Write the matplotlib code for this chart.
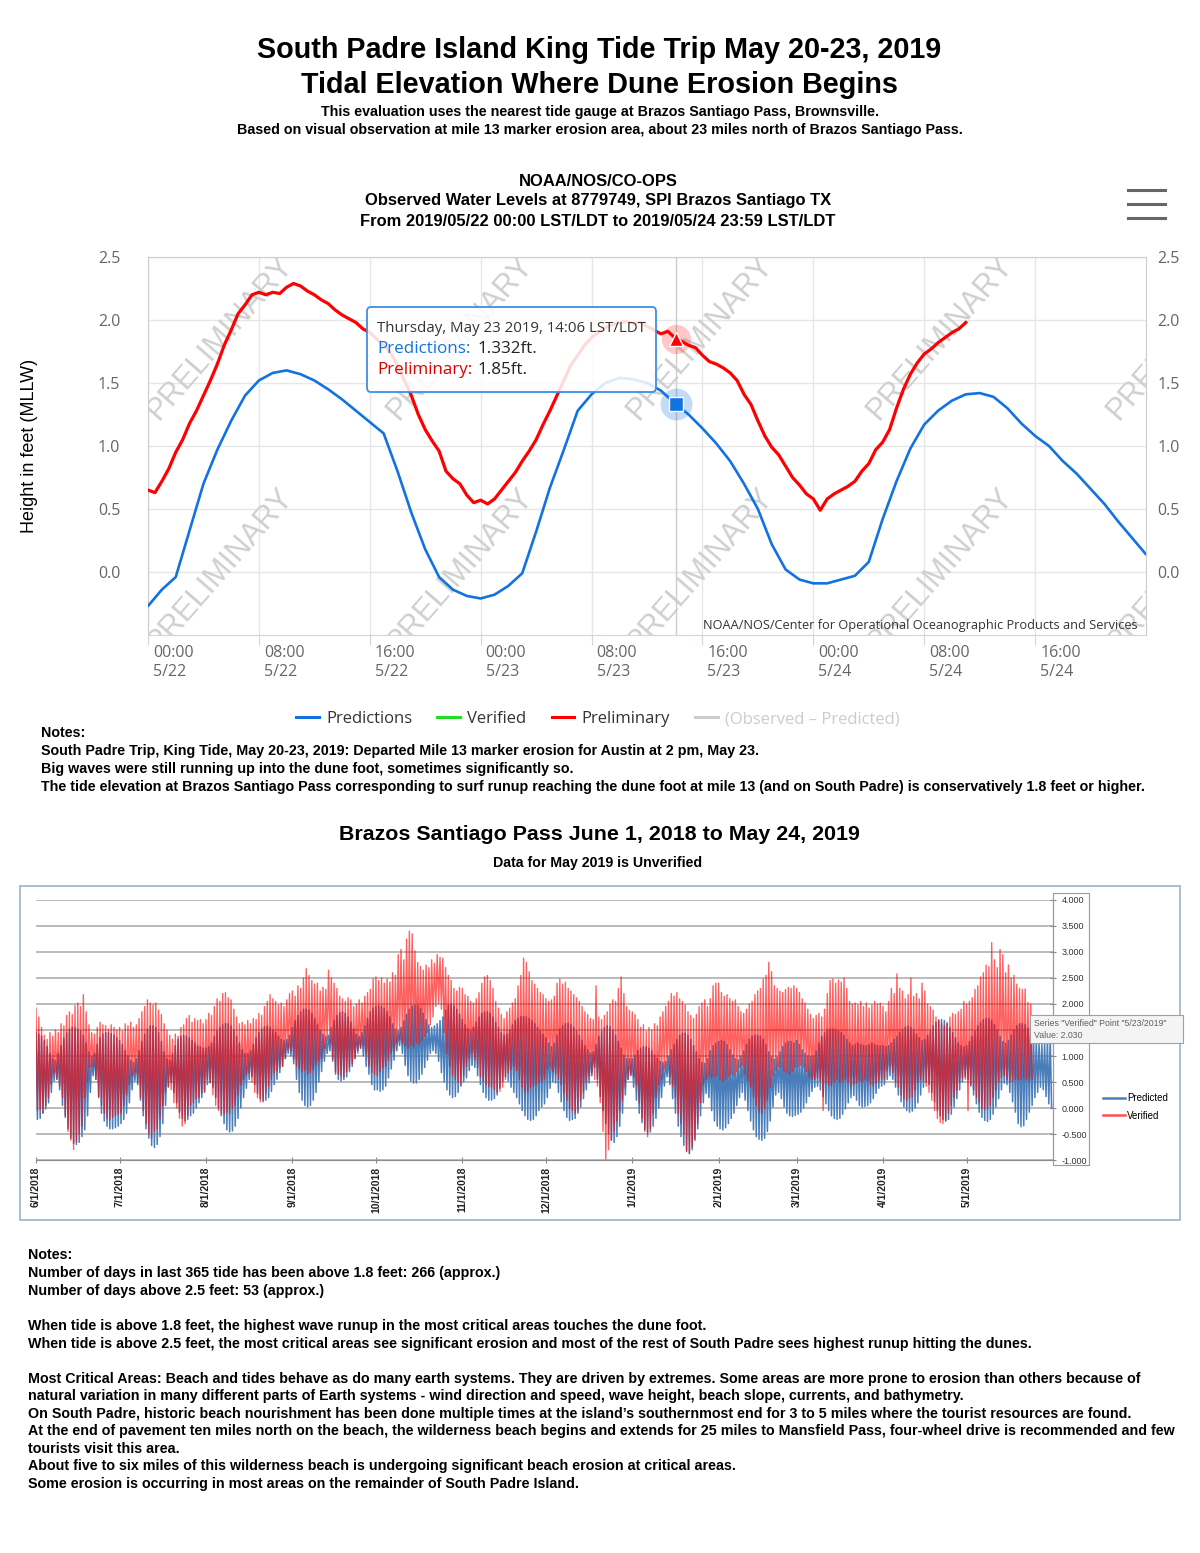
import numpy as np
import matplotlib.pyplot as plt
from matplotlib.lines import Line2D
from matplotlib.patches import FancyBboxPatch, Rectangle
from matplotlib.font_manager import FontProperties
from matplotlib.transforms import ScaledTranslation

plt.rcParams['font.family'] = ['Liberation Sans Narrow', 'Liberation Sans', 'DejaVu Sans']

W, H = 1200, 1553

# ---------------- upper chart: water levels, hours after 2019-05-22 00:00 ----------------
pred_hours = np.arange(0, 73)
pred_ft = [-0.27, -0.14, -0.04, 0.33, 0.70, 0.97, 1.20, 1.40, 1.52, 1.58, 1.60, 1.57,
           1.52, 1.45, 1.37, 1.28, 1.19, 1.10, 0.80, 0.47, 0.18, -0.04, -0.14, -0.19,
           -0.21, -0.18, -0.11, -0.01, 0.32, 0.67, 0.97, 1.28, 1.41, 1.50, 1.54, 1.53,
           1.50, 1.44, 1.34, 1.25, 1.14, 1.02, 0.88, 0.70, 0.50, 0.22, 0.02, -0.06,
           -0.09, -0.09, -0.06, -0.03, 0.08, 0.42, 0.72, 0.98, 1.17, 1.28, 1.36, 1.41,
           1.42, 1.39, 1.30, 1.18, 1.08, 1.00, 0.88, 0.78, 0.66, 0.54, 0.40, 0.27, 0.14]

prelim_hours = np.arange(0, 59.5, 0.5)
prelim_ft = [0.65, 0.63, 0.72, 0.82, 0.95, 1.05, 1.18, 1.28, 1.40, 1.52, 1.65, 1.80,
             1.92, 2.05, 2.12, 2.20, 2.22, 2.20, 2.22, 2.21, 2.26, 2.29, 2.27, 2.23,
             2.20, 2.16, 2.13, 2.08, 2.04, 2.01, 1.98, 1.93, 1.90, 1.85, 1.80, 1.74,
             1.64, 1.52, 1.40, 1.25, 1.13, 1.04, 0.96, 0.80, 0.74, 0.70, 0.61, 0.55,
             0.57, 0.54, 0.58, 0.65, 0.72, 0.79, 0.88, 0.96, 1.05, 1.17, 1.28, 1.40,
             1.52, 1.64, 1.72, 1.80, 1.86, 1.90, 1.94, 1.96, 1.98, 1.99, 1.97, 1.98,
             1.95, 1.92, 1.89, 1.91, 1.86, 1.83, 1.80, 1.78, 1.72, 1.67, 1.65, 1.62,
             1.58, 1.52, 1.41, 1.33, 1.20, 1.08, 0.99, 0.93, 0.84, 0.75, 0.69, 0.62,
             0.58, 0.49, 0.58, 0.62, 0.65, 0.68, 0.72, 0.80, 0.86, 0.97, 1.03, 1.13,
             1.30, 1.45, 1.57, 1.66, 1.73, 1.77, 1.82, 1.86, 1.90, 1.93, 1.98]

hover_hour = 38.1
hover_pred = 1.332
hover_prelim = 1.85

hour_ticks = [0, 8, 16, 24, 32, 40, 48, 56, 64]
hour_labels = ['00:00\n5/22', '08:00\n5/22', '16:00\n5/22', '00:00\n5/23', '08:00\n5/23',
               '16:00\n5/23', '00:00\n5/24', '08:00\n5/24', '16:00\n5/24']

# ---------------- lower chart: daily high / low, day 0 = 6/1/2018 ----------------
pred_hi = [
    1.45, 1.42, 1.38, 1.30, 1.18, 1.05, 0.95, 0.92, 1.05, 1.20, 1.35, 1.45, 1.52, 1.55, 1.55,
    1.52, 1.48, 1.40, 1.25, 1.08, 1.00, 1.05, 1.22, 1.35, 1.42, 1.45, 1.45, 1.43, 1.40, 1.35,  # jun
    1.30, 1.22, 1.10, 1.00, 0.92, 0.88, 0.95, 1.10, 1.28, 1.42, 1.52, 1.58, 1.58, 1.55, 1.45,
    1.28, 1.08, 0.95, 0.92, 1.05, 1.20, 1.32, 1.38, 1.40, 1.38, 1.35, 1.30, 1.25, 1.20, 1.18, 1.15,  # jul
    1.15, 1.18, 1.25, 1.38, 1.48, 1.55, 1.60, 1.63, 1.62, 1.58, 1.50, 1.38, 1.25, 1.12, 1.05,
    1.05, 1.10, 1.22, 1.35, 1.45, 1.52, 1.56, 1.58, 1.55, 1.50, 1.45, 1.38, 1.32, 1.30, 1.32, 1.40,  # aug
    1.55, 1.68, 1.78, 1.85, 1.90, 1.90, 1.88, 1.82, 1.72, 1.60, 1.50, 1.42, 1.38, 1.40, 1.55,
    1.68, 1.78, 1.83, 1.85, 1.82, 1.75, 1.65, 1.52, 1.42, 1.38, 1.45, 1.58, 1.72, 1.85, 1.92,  # sep
    1.95, 1.97, 1.96, 1.92, 1.85, 1.75, 1.62, 1.52, 1.48, 1.55, 1.68, 1.80, 1.90, 1.96, 1.98,
    1.97, 1.92, 1.82, 1.70, 1.60, 1.55, 1.58, 1.62, 1.68, 1.75, 1.88, 1.98, 2.00, 1.96, 1.90, 1.80,  # oct
    1.70, 1.60, 1.52, 1.48, 1.55, 1.65, 1.75, 1.82, 1.85, 1.85, 1.82, 1.75, 1.65, 1.55, 1.45,
    1.40, 1.42, 1.50, 1.60, 1.68, 1.73, 1.76, 1.76, 1.75, 1.72, 1.68, 1.62, 1.55, 1.48, 1.42,  # nov
    1.35, 1.25, 1.18, 1.25, 1.40, 1.52, 1.58, 1.62, 1.63, 1.60, 1.55, 1.48, 1.40, 1.30, 1.20,
    1.12, 1.06, 1.08, 1.22, 1.38, 1.48, 1.55, 1.58, 1.56, 1.50, 1.40, 1.28, 1.15, 1.02, 0.95, 0.95,  # dec
    0.95, 1.02, 1.10, 1.15, 1.18, 1.18, 1.15, 1.10, 1.02, 0.95, 0.90, 0.88, 0.90, 1.00, 1.12,
    1.22, 1.32, 1.40, 1.44, 1.44, 1.40, 1.32, 1.20, 1.08, 0.95, 0.88, 0.86, 0.95, 1.10, 1.20, 1.25,  # jan
    1.28, 1.30, 1.28, 1.22, 1.12, 1.02, 0.95, 0.93, 1.00, 1.10, 1.22, 1.32, 1.38, 1.40,
    1.40, 1.38, 1.32, 1.22, 1.08, 0.98, 0.94, 0.98, 1.08, 1.18, 1.25, 1.28, 1.28, 1.25,  # feb
    1.30, 1.22, 1.12, 1.05, 1.00, 0.98, 1.00, 1.10, 1.25, 1.38, 1.45, 1.50, 1.52, 1.52, 1.50,
    1.48, 1.45, 1.40, 1.32, 1.25, 1.20, 1.22, 1.25, 1.22, 1.20, 1.20, 1.22, 1.25, 1.22, 1.20, 1.20,  # mar
    1.20, 1.18, 1.20, 1.25, 1.32, 1.38, 1.45, 1.52, 1.56, 1.57, 1.55, 1.50, 1.42, 1.35, 1.30,
    1.32, 1.40, 1.50, 1.58, 1.65, 1.68, 1.70, 1.68, 1.62, 1.55, 1.45, 1.35, 1.25, 1.20, 1.18,  # apr
    1.20, 1.28, 1.38, 1.48, 1.58, 1.65, 1.70, 1.72, 1.72, 1.68, 1.60, 1.50, 1.38, 1.28, 1.25,
    1.30, 1.40, 1.50, 1.58, 1.62, 1.62, 1.60, 1.54, 1.46, 1.38, 1.30, 1.25, 1.22, 1.25, 1.30, 1.35,  # may
]
pred_lo = [
    -0.22, -0.20, -0.10, -0.02, 0.10, 0.30, 0.52, 0.55, 0.35, 0.05, -0.18, -0.40, -0.58, -0.68, -0.70,
    -0.66, -0.55, -0.42, -0.15, 0.30, 0.62, 0.55, 0.20, -0.10, -0.25, -0.35, -0.40, -0.40, -0.38, -0.35,
    -0.30, -0.22, -0.10, 0.10, 0.35, 0.52, 0.45, 0.15, -0.15, -0.40, -0.58, -0.72, -0.76, -0.70, -0.55,
    -0.30, 0.05, 0.40, 0.50, 0.30, 0.10, -0.08, -0.20, -0.25, -0.22, -0.15, -0.10, 0.00, 0.10, 0.20, 0.30,
    0.45, 0.48, 0.40, 0.20, 0.00, -0.15, -0.30, -0.42, -0.46, -0.44, -0.35, -0.20, 0.00, 0.20, 0.38,
    0.55, 0.60, 0.45, 0.28, 0.18, 0.12, 0.15, 0.20, 0.32, 0.45, 0.55, 0.68, 0.80, 0.95, 1.05, 1.00,
    0.85, 0.55, 0.30, 0.15, 0.05, 0.02, 0.05, 0.15, 0.30, 0.50, 0.70, 0.90, 1.05, 1.10, 0.90,
    0.65, 0.55, 0.52, 0.55, 0.60, 0.70, 0.80, 0.95, 1.10, 1.15, 1.00, 0.80, 0.65, 0.45, 0.35,
    0.35, 0.32, 0.35, 0.42, 0.58, 0.75, 0.92, 1.10, 1.20, 1.05, 0.82, 0.62, 0.52, 0.48, 0.48,
    0.55, 0.65, 0.78, 0.92, 1.05, 1.10, 1.05, 0.90, 0.68, 0.50, 0.35, 0.25, 0.20, 0.22, 0.30, 0.42,
    0.50, 0.58, 0.72, 0.82, 0.78, 0.62, 0.45, 0.30, 0.20, 0.15, 0.15, 0.18, 0.25, 0.38, 0.52,
    0.60, 0.52, 0.40, 0.30, 0.20, 0.08, -0.05, -0.15, -0.22, -0.24, -0.22, -0.15, -0.05, 0.02, 0.08,
    0.20, 0.38, 0.50, 0.48, 0.30, 0.12, -0.05, -0.18, -0.24, -0.22, -0.20, -0.10, 0.02, 0.18, 0.35,
    0.48, 0.62, 0.78, 0.55, 0.22, -0.05, -0.30, -0.50, -0.62, -0.66, -0.55, -0.35, -0.10, 0.25, 0.55, 0.62,
    0.40, 0.15, -0.10, -0.28, -0.42, -0.48, -0.46, -0.35, -0.20, 0.00, 0.20, 0.42, 0.60, 0.45, 0.18,
    -0.10, -0.35, -0.55, -0.72, -0.84, -0.87, -0.80, -0.62, -0.40, -0.15, 0.10, 0.28, 0.20, -0.05, -0.25, -0.35,
    -0.40, -0.42, -0.38, -0.30, -0.20, -0.10, 0.05, 0.20, 0.30, 0.15, -0.05, -0.25, -0.42, -0.55,
    -0.60, -0.62, -0.58, -0.45, -0.25, 0.02, 0.25, 0.30, 0.18, 0.02, -0.10, -0.15, -0.16, -0.14,
    -0.12, -0.08, 0.00, 0.10, 0.22, 0.32, 0.40, 0.42, 0.35, 0.22, 0.08, -0.05, -0.15, -0.20, -0.22,
    -0.20, -0.12, -0.02, 0.10, 0.20, 0.24, 0.15, 0.05, 0.02, 0.03, 0.05, 0.10, 0.18, 0.28, 0.38, 0.42,
    0.45, 0.55, 0.62, 0.55, 0.40, 0.25, 0.12, 0.02, -0.05, -0.08, -0.06, 0.00, 0.10, 0.25, 0.40,
    0.50, 0.45, 0.30, 0.12, -0.05, -0.15, -0.22, -0.25, -0.22, -0.12, 0.02, 0.18, 0.35, 0.50, 0.60,
    0.55, 0.42, 0.25, 0.08, -0.08, -0.18, -0.24, -0.26, -0.22, -0.12, 0.02, 0.18, 0.35, 0.48, 0.45,
    0.30, 0.12, -0.08, -0.30, -0.36, -0.34, -0.22, -0.08, 0.05, 0.20, 0.30, 0.40, 0.35, 0.22, 0.08, 0.00,
]
ver_hi = [
    1.92, 1.75, 1.55, 1.40, 1.32, 1.45, 1.38, 1.50, 1.45, 1.62, 1.58, 1.78, 1.85, 1.80, 1.97,
    2.02, 1.95, 2.18, 1.85, 1.60, 1.45, 1.42, 1.55, 1.65, 1.60, 1.58, 1.52, 1.60, 1.55, 1.50,
    1.55, 1.48, 1.62, 1.58, 1.65, 1.55, 1.60, 1.72, 1.85, 1.95, 2.08, 2.02, 1.98, 2.02, 1.88,
    1.80, 1.62, 1.50, 1.40, 1.32, 1.42, 1.38, 1.55, 1.60, 1.72, 1.78, 1.65, 1.72, 1.68, 1.70, 1.62,
    1.70, 1.82, 1.78, 1.95, 2.10, 2.05, 2.20, 2.22, 2.12, 2.08, 1.90, 1.75, 1.62, 1.65, 1.60,
    1.68, 1.62, 1.72, 1.70, 1.82, 1.78, 1.95, 2.05, 2.18, 2.10, 2.05, 1.98, 2.02, 1.95, 2.08, 2.20,
    2.25, 2.15, 2.35, 2.30, 2.50, 2.68, 2.55, 2.45, 2.38, 2.40, 2.25, 2.32, 2.28, 2.65, 2.50,
    2.40, 2.30, 2.15, 2.10, 2.05, 2.12, 2.08, 1.95, 2.00, 2.08, 2.02, 2.15, 2.22, 2.28, 2.48,
    2.52, 2.45, 2.50, 2.40, 2.48, 2.42, 2.60, 2.55, 2.95, 3.05, 2.85, 3.25, 3.40, 3.35, 3.02,
    2.80, 2.72, 2.65, 2.75, 2.70, 2.85, 2.78, 2.95, 2.90, 2.88, 2.70, 2.55, 2.45, 2.30, 2.25, 2.32,
    2.30, 2.18, 2.15, 2.05, 2.02, 2.10, 2.22, 2.40, 2.52, 2.55, 2.45, 2.30, 2.05, 1.92, 1.80,
    1.72, 1.85, 1.92, 2.02, 2.10, 2.35, 2.55, 2.88, 2.80, 2.62, 2.45, 2.38, 2.30, 2.22, 2.18,
    2.10, 2.05, 2.08, 2.15, 2.40, 2.48, 2.38, 2.42, 2.30, 2.25, 2.18, 2.12, 2.05, 1.95, 1.85,
    1.80, 1.72, 1.70, 2.35, 1.75, 1.70, 1.78, 1.85, 2.00, 2.08, 2.05, 2.30, 2.52, 2.20, 1.95, 1.88,
    1.85, 1.80, 1.70, 1.55, 1.60, 1.48, 1.55, 1.50, 1.62, 1.58, 1.75, 1.85, 1.95, 2.05, 2.20,
    2.15, 2.22, 2.10, 2.05, 1.98, 1.85, 1.78, 1.72, 1.80, 1.95, 2.02, 2.08, 1.95, 2.10, 2.35, 2.40,
    2.40, 2.22, 2.15, 2.18, 2.10, 2.05, 2.08, 1.95, 1.85, 1.82, 1.90, 2.00, 2.05, 2.18,
    2.25, 2.30, 2.48, 2.55, 2.80, 2.62, 2.35, 2.30, 2.25, 2.22, 2.28, 2.32, 2.30, 2.35,
    2.30, 2.22, 2.10, 2.02, 1.90, 1.80, 1.72, 1.78, 1.82, 1.75, 1.90, 2.20, 2.45, 2.48, 2.40,
    2.46, 2.42, 2.50, 2.30, 2.05, 2.00, 2.02, 1.98, 2.05, 1.95, 2.02, 1.92, 1.98, 2.05, 2.00, 2.02,
    1.95, 1.85, 2.05, 2.30, 2.20, 2.58, 2.30, 2.25, 2.10, 2.18, 2.50, 2.15, 2.20, 2.10, 2.40,
    2.25, 2.00, 1.95, 1.88, 1.75, 1.70, 1.62, 1.58, 1.65, 1.75, 1.82, 1.80, 1.85, 1.90, 2.05,
    2.00, 2.05, 2.12, 2.28, 2.35, 2.52, 2.60, 2.75, 2.72, 3.18, 2.85, 2.70, 3.05, 2.95, 2.60,
    2.75, 2.50, 2.55, 2.38, 2.30, 2.28, 2.29, 2.03, 2.00,
]
ver_lo = [
    -0.05, -0.02, -0.10, 0.05, 0.20, 0.45, 0.68, 0.55, 0.42, 0.20, -0.15, -0.45, -0.62, -0.80, -0.65,
    -0.50, -0.35, 0.20, 0.50, 0.78, 0.80, 0.55, 0.22, 0.05, -0.10, -0.20, -0.22, -0.18, -0.15, -0.12,
    -0.10, 0.05, 0.25, 0.45, 0.62, 0.68, 0.50, 0.20, -0.05, -0.30, -0.48, -0.58, -0.45, -0.40, -0.20,
    0.05, 0.30, 0.42, 0.35, 0.10, 0.00, -0.20, -0.35, -0.30, -0.15, 0.05, 0.10, 0.18, 0.20, 0.28, 0.32,
    0.55, 0.50, 0.25, 0.05, -0.05, -0.10, -0.12, -0.08, -0.10, 0.00, 0.05, 0.25, 0.45, 0.55, 0.65,
    0.68, 0.50, 0.30, 0.20, 0.12, 0.15, 0.30, 0.42, 0.55, 0.68, 0.72, 0.78, 0.80, 0.95, 1.15, 1.10,
    0.95, 0.80, 0.75, 0.70, 0.72, 0.65, 0.68, 0.75, 0.82, 0.90, 0.95, 1.15, 1.30, 1.25, 0.95,
    0.70, 0.65, 0.62, 0.60, 0.70, 0.78, 0.85, 0.95, 1.05, 1.15, 1.20, 1.05, 0.80, 0.68, 0.65,
    0.62, 0.70, 0.78, 0.80, 0.92, 1.05, 1.10, 1.25, 1.32, 1.25, 1.20, 1.15, 1.20, 1.18, 1.25,
    1.22, 1.30, 1.38, 1.45, 1.60, 1.75, 1.95, 2.00, 1.90, 1.45, 1.05, 0.80, 0.62, 0.55, 0.50, 0.45,
    0.62, 0.80, 0.95, 1.05, 0.92, 0.78, 0.60, 0.52, 0.45, 0.42, 0.40, 0.35, 0.30, 0.32, 0.40,
    0.55, 0.68, 0.75, 0.80, 0.72, 0.55, 0.40, 0.30, 0.32, 0.38, 0.42, 0.45, 0.48, 0.52, 0.55,
    0.75, 0.80, 0.70, 0.65, 0.55, 0.45, 0.30, 0.15, 0.00, -0.05, -0.10, -0.05, 0.15, 0.30, 0.50,
    0.62, 0.68, 0.55, 0.42, 0.10, -0.45, -0.98, -0.80, -0.62, -0.45, -0.25, -0.05, 0.15, 0.40, 0.55, 0.65,
    0.60, 0.45, 0.10, -0.20, -0.45, -0.55, -0.40, -0.10, 0.20, 0.45, 0.55, 0.75, 0.82, 0.60, 0.42,
    0.20, -0.10, -0.30, -0.50, -0.82, -0.88, -0.75, -0.60, -0.30, 0.10, 0.45, 0.55, 0.62, 0.58, 0.60, 0.62,
    0.55, 0.52, 0.55, 0.60, 0.65, 0.62, 0.70, 0.78, 0.82, 0.65, 0.52, 0.40, 0.20, 0.05,
    -0.08, -0.10, 0.00, 0.15, 0.40, 0.62, 0.72, 0.80, 0.78, 0.70, 0.68, 0.65, 0.70, 0.78,
    0.80, 0.82, 0.78, 0.70, 0.60, 0.55, 0.55, 0.58, 0.52, -0.05, 0.50, 0.45, 0.42, 0.50, 0.55,
    0.48, 0.52, 0.55, 0.50, 0.42, 0.45, 0.48, 0.52, 0.50, 0.55, 0.52, 0.45, 0.42, 0.48, 0.52, 0.55,
    0.55, 0.72, 0.80, 0.68, 0.50, 0.40, 0.25, 0.18, 0.15, 0.18, 0.22, 0.35, 0.50, 0.55, 0.52,
    0.42, 0.30, 0.15, -0.05, -0.20, -0.28, -0.30, -0.25, -0.10, 0.05, 0.20, 0.35, 0.50, 0.58, 0.55,
    -0.05, 0.45, 0.35, 0.20, 0.10, 0.00, -0.03, -0.02, 0.05, 0.20, 0.35, 0.50, 0.58, 0.62, 0.55,
    0.50, 0.52, 0.55, 0.54, 0.55, 0.58, 0.55, 0.52, 0.55,
]
month_days = [0, 30, 61, 92, 122, 153, 183, 214, 245, 273, 304, 334]
month_labels = ['6/1/2018', '7/1/2018', '8/1/2018', '9/1/2018', '10/1/2018', '11/1/2018',
                '12/1/2018', '1/1/2019', '2/1/2019', '3/1/2019', '4/1/2019', '5/1/2019']

# ---------------- texts ----------------
title_lines = ['South Padre Island King Tide Trip May 20-23, 2019',
               'Tidal Elevation Where Dune Erosion Begins']
sub_lines = ['This evaluation uses the nearest tide gauge at Brazos Santiago Pass, Brownsville.',
             'Based on visual observation at mile 13 marker erosion area, about 23 miles north of Brazos Santiago Pass.']
chart_title = ['NOAA/NOS/CO-OPS',
               'Observed Water Levels at 8779749, SPI Brazos Santiago TX',
               'From 2019/05/22 00:00 LST/LDT to 2019/05/24 23:59 LST/LDT']
notes1 = ['Notes:',
          'South Padre Trip, King Tide, May 20-23, 2019: Departed Mile 13 marker erosion for Austin at 2 pm, May 23.',
          'Big waves were still running up into the dune foot, sometimes significantly so.',
          'The tide elevation at Brazos Santiago Pass corresponding to surf runup reaching the dune foot at mile 13 (and on South Padre) is conservatively 1.8 feet or higher.']
notes2 = [(1255, 'Notes:'),
          (1273, 'Number of days in last 365 tide has been above 1.8 feet: 266 (approx.)'),
          (1291, 'Number of days above 2.5 feet: 53 (approx.)'),
          (1326, 'When tide is above 1.8 feet, the highest wave runup in the most critical areas touches the dune foot.'),
          (1344, 'When tide is above 2.5 feet, the most critical areas see significant erosion and most of the rest of South Padre sees highest runup hitting the dunes.'),
          (1379, 'Most Critical Areas: Beach and tides behave as do many earth systems. They are driven by extremes. Some areas are more prone to erosion than others because of'),
          (1396, 'natural variation in many different parts of Earth systems - wind direction and speed, wave height, beach slope, currents, and bathymetry.'),
          (1414, 'On South Padre, historic beach nourishment has been done multiple times at the island\u2019s southernmost end for 3 to 5 miles where the tourist resources are found.'),
          (1431, 'At the end of pavement ten miles north on the beach, the wilderness beach begins and extends for 25 miles to Mansfield Pass, four-wheel drive is recommended and few'),
          (1449, 'tourists visit this area.'),
          (1466, 'About five to six miles of this wilderness beach is undergoing significant beach erosion at critical areas.'),
          (1484, 'Some erosion is occurring in most areas on the remainder of South Padre Island.')]

BLUE = '#1272e0'
RED = '#ff0000'

fig = plt.figure(figsize=(W / 100, H / 100), dpi=100)
fig.patch.set_facecolor('white')
renderer = fig.canvas.get_renderer()


def rect(l, t, r, b):
    return [l / W, 1 - b / H, (r - l) / W, (b - t) / H]


def fx(x):
    return x / W


def fy(y):
    return 1 - y / H


def fit_size(s, width, size=10, **kw):
    # font size that makes string s about `width` pixels wide
    t = fig.text(0, 0, s, fontsize=size, **kw)
    w = t.get_window_extent(renderer).width
    t.remove()
    return size * width / w


# ---- page titles ----
sz = fit_size(title_lines[0], 684, weight='bold')
fig.text(fx(599), fy(50), title_lines[0], fontsize=sz, weight='bold', ha='center', va='center')
fig.text(fx(599), fy(85), title_lines[1], fontsize=sz, weight='bold', ha='center', va='center')
sz = fit_size(sub_lines[1], 722, weight='bold')
fig.text(fx(600), fy(112), sub_lines[0], fontsize=sz, weight='bold', ha='center', va='center')
fig.text(fx(600), fy(130), sub_lines[1], fontsize=sz, weight='bold', ha='center', va='center')

sz = fit_size(chart_title[1], 465, weight='bold')
for y, s in zip([182, 201, 222], chart_title):
    fig.text(fx(598), fy(y), s, fontsize=sz, weight='bold', ha='center', va='center')

# hamburger menu
for y in [190, 204, 218]:
    fig.add_artist(Line2D([fx(1128), fx(1165)], [fy(y), fy(y)], color='#666666', lw=2.2,
                          transform=fig.transFigure))

# ---- upper chart ----
ax = fig.add_axes(rect(148, 257, 1146, 635))
ax.set_xlim(0, 72)
ax.set_ylim(-0.5, 2.5)
ax.set_axisbelow(True)
ax.grid(True, color='#e6e6e6', lw=1)

for px in [0.072, 0.313, 0.553, 0.794, 1.034]:
    for py in [0.786, 0.172]:
        ax.text(px, py, 'PRELIMINARY', transform=ax.transAxes, rotation=49,
                rotation_mode='anchor', ha='center', va='center', fontsize=22,
                family='Liberation Sans', color='#cfcfcf', clip_on=True, zorder=1)

ax.axvline(hover_hour, color='#cccccc', lw=1, zorder=2)
ax.plot(pred_hours, pred_ft, color=BLUE, lw=1.9, zorder=3, solid_capstyle='round')
ax.plot(prelim_hours, prelim_ft, color=RED, lw=2.3, zorder=4, solid_joinstyle='round')

ax.plot([hover_hour], [hover_prelim], 'o', ms=21, color=RED, alpha=0.22, mew=0, zorder=5)
ax.plot([hover_hour], [hover_prelim], '^', ms=10, color=RED, mec='white', mew=1, zorder=6)
ax.plot([hover_hour], [hover_pred], 'o', ms=23, color=BLUE, alpha=0.25, mew=0, zorder=5)
ax.plot([hover_hour], [hover_pred], 's', ms=9.5, color=BLUE, mec='white', mew=1, zorder=6)

ax.set_yticks(np.arange(0, 2.51, 0.5))
ax.set_yticklabels(['%.1f' % v for v in np.arange(0, 2.51, 0.5)])
ax.tick_params(axis='y', length=0, pad=20, labelsize=11.5, labelcolor='#666666',
               labelfontfamily='Open Sans')
ax.set_xticks(hour_ticks)
ax.set_xticklabels(hour_labels)
ax.tick_params(axis='x', length=7, color='#ccd6eb', pad=0, labelsize=11.5,
               labelcolor='#666666', labelfontfamily='Open Sans')
for lbl in ax.get_xticklabels():
    lbl.set_ha('left')
    lbl.set_linespacing(1.25)
    lbl.set_transform(lbl.get_transform() + ScaledTranslation(0.05, 0, fig.dpi_scale_trans))
for s in ax.spines.values():
    s.set_color('#cccccc')
ax.spines['bottom'].set_color('#ccd6eb')

ax_r = ax.twinx()
ax_r.set_ylim(ax.get_ylim())
ax_r.set_yticks(np.arange(0, 2.51, 0.5))
ax_r.set_yticklabels(['%.1f' % v for v in np.arange(0, 2.51, 0.5)])
ax_r.tick_params(axis='y', length=0, pad=8, labelsize=11.5, labelcolor='#666666',
                 labelfontfamily='Open Sans')
for s in ax_r.spines.values():
    s.set_visible(False)

ax.set_ylabel('Height in feet (MLLW)', family='Liberation Sans', fontsize=13)
ax.yaxis.set_label_coords(-0.110, 0.5)

ax.text(0.992, 0.024, 'NOAA/NOS/Center for Operational Oceanographic Products and Services',
        transform=ax.transAxes, ha='right', va='center', family='Open Sans',
        fontsize=fit_size('NOAA/NOS/Center for Operational Oceanographic Products and Services',
                          435, family='Open Sans'), color='#333333', zorder=7)

# tooltip
fig.add_artist(FancyBboxPatch((fx(367), fy(392)), fx(656) - fx(367), fy(307) - fy(392),
                              boxstyle='round,pad=0,rounding_size=0.003',
                              transform=fig.transFigure, fc=(1, 1, 1, 0.86), ec='#3d8fe5', lw=1.3))
fig.text(fx(377), fy(329), 'Thursday, May 23 2019, 14:06 LST/LDT', family='Open Sans',
         fontsize=fit_size('Thursday, May 23 2019, 14:06 LST/LDT', 268, family='Open Sans'),
         color='#333333', va='center')
tsz = fit_size('Predictions:', 93, family='Open Sans')
fig.text(fx(377), fy(349), 'Predictions:', family='Open Sans', fontsize=tsz, color=BLUE, va='center')
fig.text(fx(477), fy(349), '%.3fft.' % hover_pred, family='Open Sans', fontsize=tsz, color='#222222', va='center')
fig.text(fx(377), fy(370), 'Preliminary:', family='Open Sans', fontsize=tsz, color='#e00000', va='center')
fig.text(fx(477), fy(370), '%.2fft.' % hover_prelim, family='Open Sans', fontsize=tsz, color='#222222', va='center')

# legend
handles = [Line2D([], [], color=c, lw=2.2) for c in [BLUE, '#22dd22', RED, '#cccccc']]
leg = fig.legend(handles, ['Predictions', 'Verified', 'Preliminary', '(Observed \u2013 Predicted)'],
                 loc='center', bbox_to_anchor=(fx(598), fy(719)), ncol=4, frameon=False,
                 prop=FontProperties(family='Open Sans', size=12), handlelength=1.35,
                 handletextpad=0.45, columnspacing=1.5)
leg.get_texts()[3].set_color('#cccccc')
for t in leg.get_texts()[:3]:
    t.set_color('#333333')

# notes under upper chart
sz = fit_size(notes1[3], 1102, weight='bold')
for y, s in zip([733, 751, 769, 787], notes1):
    fig.text(fx(41), fy(y), s, fontsize=sz, weight='bold', va='center')

fig.text(fx(599), fy(835), 'Brazos Santiago Pass June 1, 2018 to May 24, 2019', weight='bold',
         fontsize=fit_size('Brazos Santiago Pass June 1, 2018 to May 24, 2019', 518, weight='bold'),
         ha='center', va='center')
fig.text(fx(598), fy(863), 'Data for May 2019 is Unverified', weight='bold',
         fontsize=fit_size('Data for May 2019 is Unverified', 209, weight='bold'),
         ha='center', va='center')

# ---- lower chart ----
fig.add_artist(Rectangle((fx(20), fy(1220)), fx(1180) - fx(20), fy(886) - fy(1220), fill=False,
                         ec='#a9bfd2', lw=1.4, transform=fig.transFigure))
ax2 = fig.add_axes(rect(36, 900, 1053, 1160))
ax2.set_xlim(0, 365)
ax2.set_ylim(-1, 4)
ax2.set_axisbelow(True)
ax2.grid(axis='y', color='#a8a8a8', lw=1.1)

dp = np.arange(len(pred_hi))
dv = np.arange(len(ver_hi))
ax2.plot(np.column_stack([dp, dp + 0.5]).ravel(), np.column_stack([pred_hi, pred_lo]).ravel(),
         color='#4a7ebb', lw=1.1, zorder=2)
ax2.plot(np.column_stack([dv, dv + 0.5]).ravel(), np.column_stack([ver_hi, ver_lo]).ravel(),
         color='#ff0000', lw=1.0, alpha=0.62, zorder=3)

yt = np.arange(-1, 4.01, 0.5)
ax2.set_yticks(yt)
# the 1.500 label sits under the Excel tooltip in the screenshot
ax2.set_yticklabels(['' if abs(v - 1.5) < 1e-9 else '%.3f' % v for v in yt])
ax2.yaxis.tick_right()
ax2.tick_params(axis='y', direction='inout', length=4, color='#888888', pad=4, labelsize=6.5,
                labelcolor='#333333', labelfontfamily='Liberation Sans')
ax2.set_xticks(month_days)
ax2.set_xticklabels(month_labels, rotation=90, fontweight='bold')
ax2.tick_params(axis='x', direction='inout', length=4, color='#888888', pad=3, labelsize=7.5,
                labelcolor='#222222')
ax2.spines['left'].set_visible(False)
ax2.spines['top'].set_visible(False)
ax2.spines['right'].set_color('#8c8c8c')
ax2.spines['bottom'].set_color('#8c8c8c')

# excel axis selection frame
fig.add_artist(Rectangle((fx(1053), fy(1165)), fx(1089) - fx(1053), fy(893) - fy(1165), fill=False,
                         ec='#9a9a9a', lw=0.8, transform=fig.transFigure))

ax2.legend([Line2D([], [], color='#4a7ebb', lw=1.8), Line2D([], [], color='#ff5050', lw=1.8)],
           ['Predicted', 'Verified'], loc='center left', bbox_to_anchor=(fx(1094), fy(1107)),
           bbox_transform=fig.transFigure, frameon=False, handlelength=2.3,
           handletextpad=0.2, labelspacing=0.75, prop={'family': 'Liberation Sans', 'size': 7})

fig.add_artist(Rectangle((fx(1030), fy(1043)), fx(1183) - fx(1030), fy(1015) - fy(1043),
                         fc='#f4f4f4', ec='#a0a0a0', lw=0.8, transform=fig.transFigure, zorder=5))
fig.text(fx(1034), fy(1023), 'Series "Verified" Point "5/23/2019"', family='Liberation Sans',
         fontsize=6.3, color='#606060', va='center', zorder=6)
fig.text(fx(1034), fy(1036), 'Value: 2.030', family='Liberation Sans', fontsize=6.3,
         color='#606060', va='center', zorder=6)

# notes under lower chart
sz = fit_size(notes2[8][1], 1143, weight='bold')
for y, s in notes2:
    fig.text(fx(28), fy(y), s, fontsize=sz, weight='bold', va='center')

fig.savefig('out.png', dpi=100, facecolor='white')
